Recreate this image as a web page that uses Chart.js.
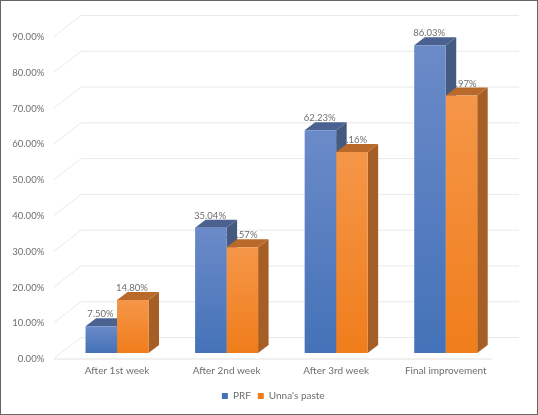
<!DOCTYPE html>
<html>
<head>
<meta charset="utf-8">
<script src="https://cdn.jsdelivr.net/npm/chart.js@4"></script>
<style>
html, body { margin: 0; padding: 0; background: #fff; }
canvas { display: block; outline: 1px solid #666; outline-offset: -1px; }
</style>
</head>
<body>
<canvas id="grafico" width="538" height="415"></canvas>
<script>
const categorias = ['After 1st week', 'After 2nd week', 'After 3rd week', 'Final improvement'];
const valoresPRF = [7.5, 35.04, 62.23, 86.03];
const valoresUnna = [14.8, 29.57, 56.16, 71.97];
const marcasY = [0, 10, 20, 30, 40, 50, 60, 70, 80, 90];

const fuente = 'Lato, "Open Sans", sans-serif';
const colorTexto = '#6e6e6e';
const colorRejilla = '#e9e9e9';

// profundidad de las barras en pixeles
const fondoBarraX = 10.5;
const fondoBarraY = 8;

function relleno(arriba, abajo, plano) {
    return function (context) {
        if (context.type !== 'data') {
            return plano;
        }
        let chart = context.chart;
        let y = chart.scales.y;
        let desde = y ? y.getPixelForValue(context.raw) : NaN;
        let hasta = y ? y.getPixelForValue(0) : NaN;
        if (!isFinite(desde) || !isFinite(hasta)) {
            return plano;
        }
        let g = chart.ctx.createLinearGradient(0, desde, 0, hasta);
        g.addColorStop(0, arriba);
        g.addColorStop(1, abajo);
        return g;
    };
}

function poligono(ctx, puntos, color) {
    ctx.fillStyle = color;
    ctx.beginPath();
    puntos.forEach((p, i) => i == 0 ? ctx.moveTo(p[0], p[1]) : ctx.lineTo(p[0], p[1]));
    ctx.closePath();
    ctx.fill();
}

// la leyenda se centra en el ancho sin el padding derecho, aqui se corre a su sitio
const pluginLeyenda = {
    id: 'leyendaCorrida',
    afterLayout(chart) {
        chart.legend.left += 23;
        chart.legend.right += 23;
    }
};

// pared, piso y lineas guia, detras de todo
const pluginRejilla = {
    id: 'rejilla',
    beforeDatasetsDraw(chart) {
        let ctx = chart.ctx;
        let y = chart.scales.y;
        ctx.save();
        ctx.strokeStyle = colorRejilla;
        ctx.lineWidth = 1;
        for (let v of marcasY) {
            let py = y.getPixelForValue(v);
            ctx.beginPath();
            ctx.moveTo(54, py + 5.5);
            ctx.lineTo(81, py - 15.5);
            ctx.lineTo(519, py - 15.5);
            ctx.stroke();
        }
        let base = y.getPixelForValue(0);
        ctx.strokeStyle = '#e2e2e2';
        ctx.beginPath();
        ctx.moveTo(54, base + 6);
        ctx.lineTo(492, base + 6);
        ctx.stroke();
        ctx.restore();
    }
};

// las etiquetas van antes que las barras: las barras vecinas tapan parte del texto
const pluginEtiquetas = {
    id: 'etiquetas',
    beforeDatasetsDraw(chart) {
        let ctx = chart.ctx;
        ctx.save();
        ctx.font = '9.5px ' + fuente;
        ctx.fillStyle = colorTexto;
        ctx.textAlign = 'center';
        ctx.textBaseline = 'middle';
        chart.data.datasets.forEach((dataset, i) => {
            chart.getDatasetMeta(i).data.forEach((barra, j) => {
                ctx.fillText(dataset.data[j].toFixed(2) + '%', barra.x - 0.8, barra.y - 12);
            });
        });
        ctx.restore();
    }
};

// caras superior y lateral de cada barra, primero la serie de la izquierda
const pluginCaras = {
    id: 'caras',
    beforeDatasetsDraw(chart) {
        let ctx = chart.ctx;
        ctx.save();
        chart.data.datasets.forEach((dataset, i) => {
            chart.getDatasetMeta(i).data.forEach(barra => {
                let izq = barra.x - barra.width / 2;
                let der = barra.x + barra.width / 2;
                poligono(ctx, [[der, barra.y], [der + fondoBarraX, barra.y - fondoBarraY],
                    [der + fondoBarraX, barra.base - fondoBarraY], [der, barra.base]], dataset.colorLado);
                poligono(ctx, [[izq, barra.y], [izq + fondoBarraX, barra.y - fondoBarraY],
                    [der + fondoBarraX, barra.y - fondoBarraY], [der, barra.y]], dataset.colorTapa);
            });
        });
        ctx.restore();
    }
};

new Chart(document.getElementById('grafico').getContext('2d'), {
    type: 'bar',
    data: {
        labels: categorias,
        datasets: [{
            label: 'PRF',
            data: valoresPRF,
            backgroundColor: relleno('#6b8ac8', '#4472b8', '#4a72b5'),
            colorLado: '#46597f',
            colorTapa: '#4b6291',
            categoryPercentage: 0.575,
            barPercentage: 1
        }, {
            label: "Unna's paste",
            data: valoresUnna,
            backgroundColor: relleno('#f59648', '#f07d1b', '#ee7d22'),
            colorLado: '#a65e24',
            colorTapa: '#b96a2a',
            categoryPercentage: 0.575,
            barPercentage: 1
        }]
    },
    options: {
        responsive: false,
        animation: false,
        layout: { padding: { left: 0, right: 37.5, top: 31, bottom: 4 } },
        scales: {
            x: {
                grid: { display: false, drawTicks: false },
                border: { display: false },
                ticks: { font: { family: fuente, size: 10 }, color: colorTexto, padding: 12, maxRotation: 0 },
                afterFit(scale) { scale.height = 31; }
            },
            y: {
                min: 0,
                max: 90,
                grid: { display: false, drawTicks: false },
                border: { display: false },
                afterBuildTicks(scale) { scale.ticks = marcasY.map(v => ({ value: v })); },
                afterFit(scale) { scale.width = 62.25; },
                ticks: {
                    font: { family: fuente, size: 9.5 },
                    color: colorTexto,
                    padding: 18,
                    labelOffset: 6,
                    callback: v => v.toFixed(2) + '%'
                }
            }
        },
        plugins: {
            legend: {
                position: 'bottom',
                labels: {
                    boxWidth: 6,
                    boxHeight: 6,
                    padding: 7,
                    color: colorTexto,
                    font: { family: fuente, size: 10 }
                }
            },
            tooltip: { enabled: false }
        }
    },
    plugins: [pluginLeyenda, pluginRejilla, pluginEtiquetas, pluginCaras]
});
</script>
</body>
</html>
